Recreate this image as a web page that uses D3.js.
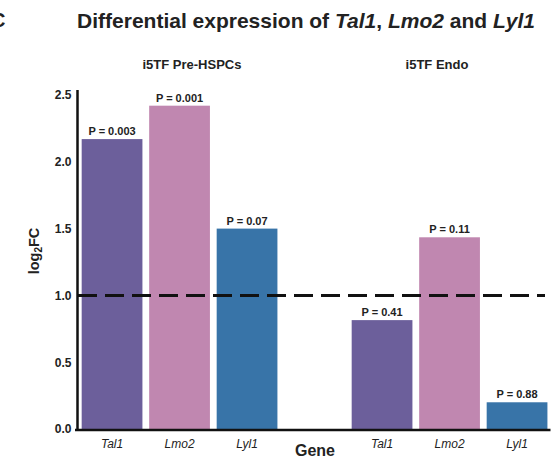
<!DOCTYPE html>
<html>
<head>
<meta charset="utf-8">
<script src="https://cdn.jsdelivr.net/npm/d3@7"></script>
<style>
  html, body { margin: 0; padding: 0; background: #fff; }
  svg { display: block; font-family: "Liberation Sans", Arial, sans-serif; }
</style>
</head>
<body>
<svg id="chart" width="555" height="459"></svg>
<script>
// ---- data ----
const slots = ["pre_Tal1", "pre_Lmo2", "pre_Lyl1", "gap", "endo_Tal1", "endo_Lmo2", "endo_Lyl1"];
const genes = ["Tal1", "Lmo2", "Lyl1", "", "Tal1", "Lmo2", "Lyl1"];
const values = [2.17, 2.42, 1.50, null, 0.815, 1.435, 0.20];
const pLabels = ["P = 0.003", "P = 0.001", "P = 0.07", "", "P = 0.41", "P = 0.11", "P = 0.88"];
const geneColors = { Tal1: "#6c5f9b", Lmo2: "#c087b0", Lyl1: "#3874a8" };
const yTicks = [0, 0.5, 1.0, 1.5, 2.0, 2.5];
const groupTitles = ["i5TF Pre-HSPCs", "i5TF Endo"];
const threshold = 1.0;

const svg = d3.select("#chart");

const x = d3.scaleBand().domain(slots).range([78.3, 550.8]).paddingInner(0.1).paddingOuter(0.05);
const y = d3.scaleLinear().domain([0, 2.5]).range([429, 95]);

// panel letter (cut at edge, as in the original figure)
svg.append("text").attr("x", -9).attr("y", 27).attr("font-size", 20).attr("font-weight", "bold")
  .attr("fill", "#222").text("C");

// title
const title = svg.append("text").attr("x", 306).attr("y", 28).attr("text-anchor", "middle")
  .attr("font-size", 21).attr("font-weight", "bold").attr("fill", "#222");
title.append("tspan").text("Differential expression of ");
title.append("tspan").attr("font-style", "italic").text("Tal1");
title.append("tspan").text(", ");
title.append("tspan").attr("font-style", "italic").text("Lmo2");
title.append("tspan").text(" and ");
title.append("tspan").attr("font-style", "italic").text("Lyl1");

// group titles
const groupCenters = [192, 437];
svg.selectAll(".gt").data(groupTitles).join("text")
  .attr("x", (d, i) => groupCenters[i]).attr("y", 69).attr("text-anchor", "middle")
  .attr("font-size", 13).attr("font-weight", "bold").attr("fill", "#222").text(d => d);

// bars
const barData = slots.map((s, i) => ({ s, g: genes[i], v: values[i], p: pLabels[i] })).filter(d => d.v !== null);
svg.selectAll(".bar").data(barData).join("rect")
  .attr("x", d => x(d.s)).attr("width", x.bandwidth())
  .attr("y", d => y(d.v)).attr("height", d => y(0) - y(d.v))
  .attr("fill", d => geneColors[d.g]);

// p labels
svg.selectAll(".pl").data(barData).join("text")
  .attr("x", d => x(d.s) + x.bandwidth() / 2).attr("y", d => y(d.v) - 4)
  .attr("text-anchor", "middle").attr("font-size", 11).attr("font-weight", "bold")
  .attr("fill", "#222").text(d => d.p);

// threshold dashed line
svg.append("line").attr("x1", 78).attr("x2", 545).attr("y1", y(threshold)).attr("y2", y(threshold))
  .attr("stroke", "#111").attr("stroke-width", 3).attr("stroke-dasharray", "19,8");

// y axis
const yAxis = svg.append("g").attr("transform", "translate(77.5,0)")
  .call(d3.axisLeft(y).tickValues(yTicks).tickFormat(d3.format(".1f")).tickSize(0).tickPadding(6));
yAxis.select(".domain").remove();
yAxis.selectAll("text").attr("font-size", 12).attr("font-weight", "bold").attr("fill", "#222")
  .attr("font-family", "Liberation Sans, Arial, sans-serif");
svg.append("line").attr("x1", 77.5).attr("x2", 77.5).attr("y1", 90).attr("y2", 430.5)
  .attr("stroke", "#111").attr("stroke-width", 2.5);

// x axis
const xAxis = svg.append("g").attr("transform", "translate(0,429)")
  .call(d3.axisBottom(x).tickValues(slots.filter(s => s !== "gap"))
    .tickFormat(s => genes[slots.indexOf(s)]).tickSize(0).tickPadding(10));
xAxis.select(".domain").remove();
xAxis.selectAll("text").attr("font-size", 12).attr("font-style", "italic").attr("fill", "#222")
  .attr("font-family", "Liberation Sans, Arial, sans-serif");
svg.append("line").attr("x1", 75).attr("x2", 550.5).attr("y1", 430).attr("y2", 430)
  .attr("stroke", "#111").attr("stroke-width", 2.5);

// axis titles
svg.append("text").attr("x", 315).attr("y", 456).attr("text-anchor", "middle")
  .attr("font-size", 16).attr("font-weight", "bold").attr("fill", "#222").text("Gene");

const yl = svg.append("text").attr("transform", "translate(39,251) rotate(-90)")
  .attr("text-anchor", "middle").attr("font-size", 14.5).attr("font-weight", "bold").attr("fill", "#222");
yl.append("tspan").text("log");
yl.append("tspan").attr("font-size", 10).attr("dy", 3).text("2");
yl.append("tspan").attr("dy", -3).text("FC");
</script>
</body>
</html>
